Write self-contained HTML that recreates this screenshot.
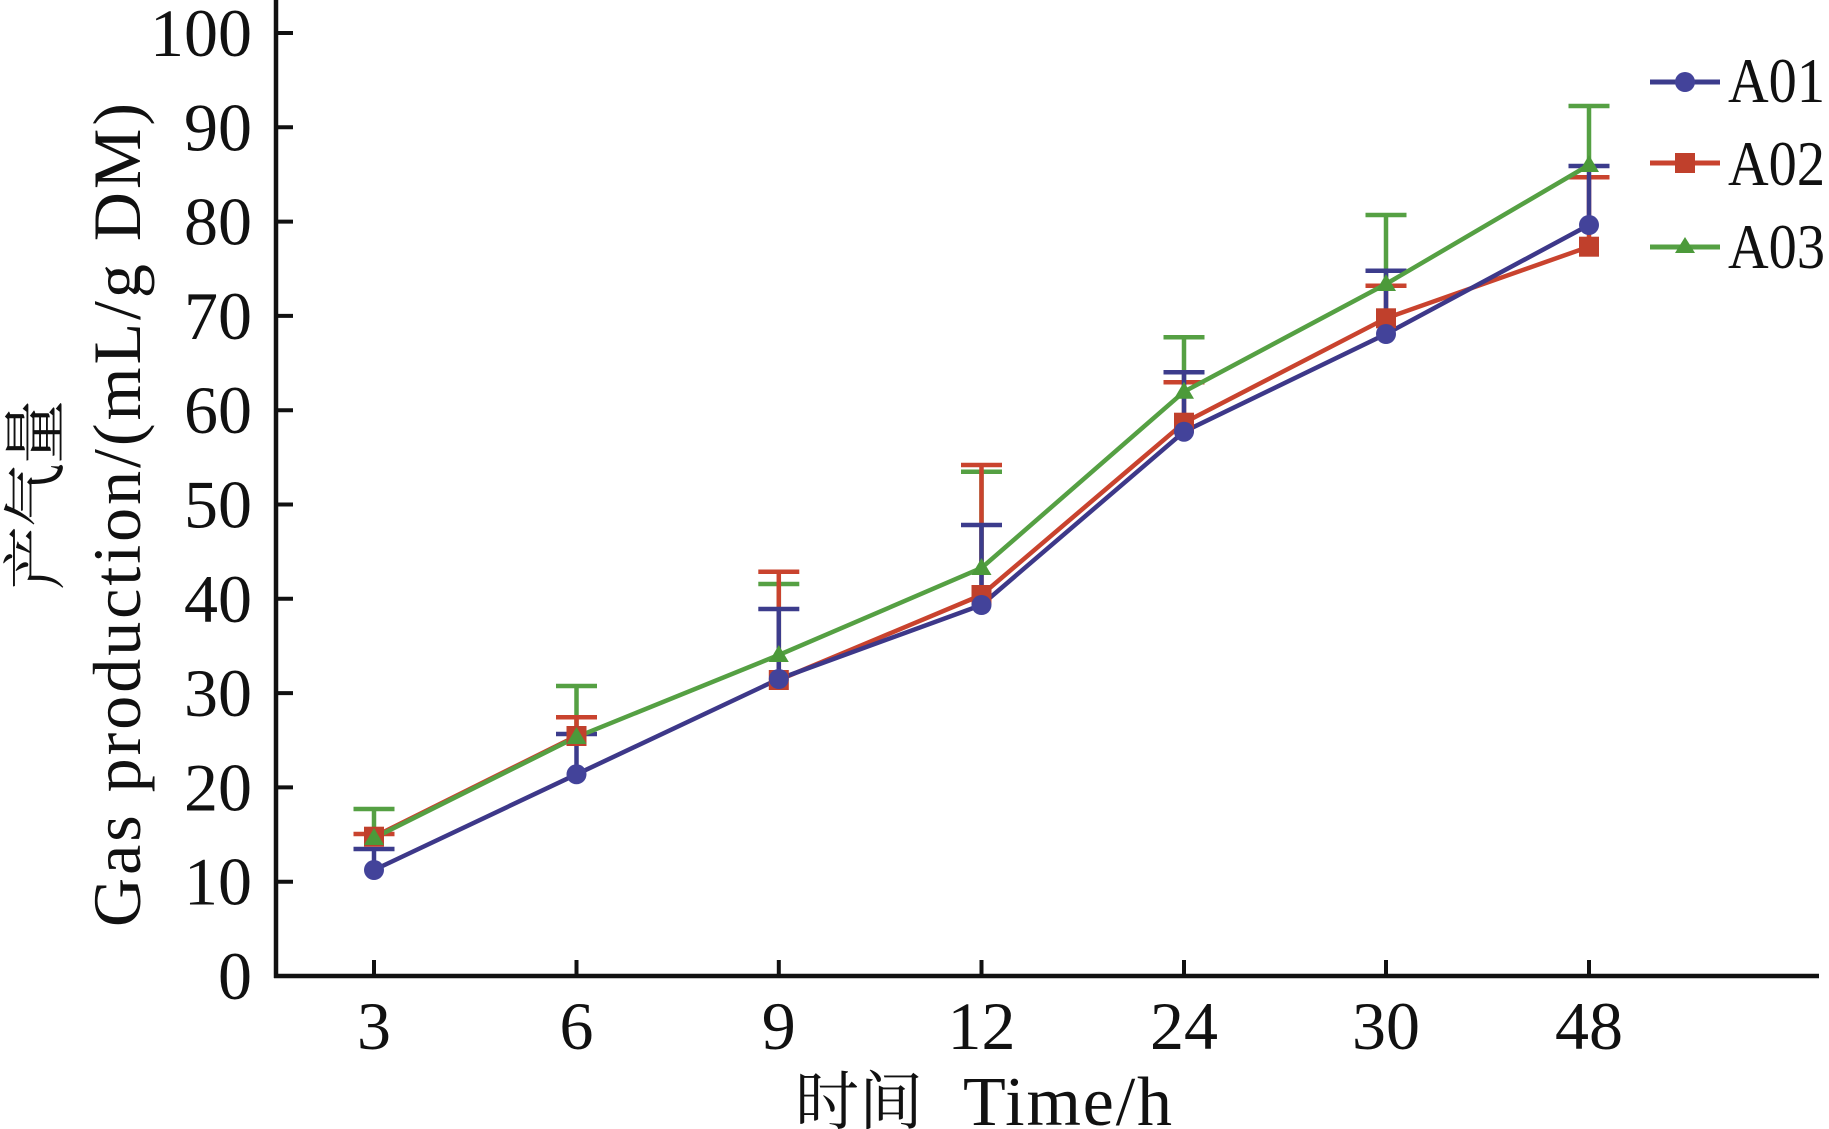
<!DOCTYPE html>
<html><head><meta charset="utf-8"><style>
html,body{margin:0;padding:0;background:#fff;}
svg{display:block;}
.t{font-family:"Liberation Serif","Noto Serif CJK SC",serif;fill:#111;}
.c{font-family:"Noto Serif CJK SC","Noto Sans CJK SC",serif;fill:#111;}
</style></head><body>
<svg width="1829" height="1129" viewBox="0 0 1829 1129" xmlns="http://www.w3.org/2000/svg">
<rect width="1829" height="1129" fill="#fff"/>
<!-- axes -->
<line x1="276" y1="0" x2="276" y2="978" stroke="#111" stroke-width="4.5"/>
<line x1="274" y1="976" x2="1819" y2="976" stroke="#111" stroke-width="4.5"/>
<!-- y ticks -->
<g stroke="#111" stroke-width="4">
<line x1="276" y1="33" x2="293" y2="33"/>
<line x1="276" y1="127.3" x2="293" y2="127.3"/>
<line x1="276" y1="221.6" x2="293" y2="221.6"/>
<line x1="276" y1="315.9" x2="293" y2="315.9"/>
<line x1="276" y1="410.2" x2="293" y2="410.2"/>
<line x1="276" y1="504.5" x2="293" y2="504.5"/>
<line x1="276" y1="598.8" x2="293" y2="598.8"/>
<line x1="276" y1="693.1" x2="293" y2="693.1"/>
<line x1="276" y1="787.4" x2="293" y2="787.4"/>
<line x1="276" y1="881.7" x2="293" y2="881.7"/>
<!-- x ticks -->
<line x1="374" y1="976" x2="374" y2="960"/>
<line x1="576.5" y1="976" x2="576.5" y2="960"/>
<line x1="778.8" y1="976" x2="778.8" y2="960"/>
<line x1="981.5" y1="976" x2="981.5" y2="960"/>
<line x1="1184" y1="976" x2="1184" y2="960"/>
<line x1="1386" y1="976" x2="1386" y2="960"/>
<line x1="1589" y1="976" x2="1589" y2="960"/>
</g>
<!-- y labels -->
<g class="t" font-size="68" text-anchor="end">
<text x="252" y="56">100</text>
<text x="252" y="150.3">90</text>
<text x="252" y="244.6">80</text>
<text x="252" y="338.9">70</text>
<text x="252" y="433.2">60</text>
<text x="252" y="527.5">50</text>
<text x="252" y="621.8">40</text>
<text x="252" y="716.1">30</text>
<text x="252" y="810.4">20</text>
<text x="252" y="904.7">10</text>
<text x="252" y="999">0</text>
</g>
<!-- x labels -->
<g class="t" font-size="68" text-anchor="middle">
<text x="374" y="1049">3</text>
<text x="576.5" y="1049">6</text>
<text x="778.8" y="1049">9</text>
<text x="981.5" y="1049">12</text>
<text x="1184" y="1049">24</text>
<text x="1386" y="1049">30</text>
<text x="1589" y="1049">48</text>
</g>
<!-- axis titles -->
<text class="c" x="795" y="1124" font-size="64">时间</text>
<text class="t" x="963" y="1125" font-size="70" textLength="209" lengthAdjust="spacing">Time/h</text>
<text class="c" transform="translate(58,590) rotate(-90)" font-size="64" textLength="190" lengthAdjust="spacing">产气量</text>
<text class="t" transform="translate(140,927) rotate(-90)" font-size="68" textLength="824" lengthAdjust="spacing">Gas production/(mL/g DM)</text>

<!-- error bars: green, red, blue -->
<g stroke="#55a043" stroke-width="4.5">
<line x1="374" y1="838" x2="374" y2="809"/><line x1="353.5" y1="809" x2="394.5" y2="809"/>
<line x1="576.5" y1="737" x2="576.5" y2="686"/><line x1="556" y1="686" x2="597" y2="686"/>
<line x1="778.8" y1="655" x2="778.8" y2="584"/><line x1="758.3" y1="584" x2="799.3" y2="584"/>
<line x1="981.5" y1="568" x2="981.5" y2="471.7"/><line x1="961" y1="471.7" x2="1002" y2="471.7"/>
<line x1="1184" y1="391.7" x2="1184" y2="337.3"/><line x1="1163.5" y1="337.3" x2="1204.5" y2="337.3"/>
<line x1="1386" y1="284" x2="1386" y2="215"/><line x1="1365.5" y1="215" x2="1406.5" y2="215"/>
<line x1="1589" y1="165" x2="1589" y2="106"/><line x1="1568.5" y1="106" x2="1609.5" y2="106"/>
</g>
<g stroke="#c9432e" stroke-width="4.5">
<line x1="374" y1="837" x2="374" y2="834"/><line x1="353.5" y1="834" x2="394.5" y2="834"/>
<line x1="576.5" y1="736" x2="576.5" y2="717.3"/><line x1="556" y1="717.3" x2="597" y2="717.3"/>
<line x1="778.8" y1="680" x2="778.8" y2="571.7"/><line x1="758.3" y1="571.7" x2="799.3" y2="571.7"/>
<line x1="981.5" y1="595" x2="981.5" y2="465"/><line x1="961" y1="465" x2="1002" y2="465"/>
<line x1="1184" y1="422.7" x2="1184" y2="382.3"/><line x1="1163.5" y1="382.3" x2="1204.5" y2="382.3"/>
<line x1="1386" y1="318.3" x2="1386" y2="285.7"/><line x1="1365.5" y1="285.7" x2="1406.5" y2="285.7"/>
<line x1="1589" y1="246.7" x2="1589" y2="177.3"/><line x1="1568.5" y1="177.3" x2="1609.5" y2="177.3"/>
</g>
<g stroke="#3c3c8c" stroke-width="4.5">
<line x1="374" y1="870" x2="374" y2="849"/><line x1="353.5" y1="849" x2="394.5" y2="849"/>
<line x1="576.5" y1="774.3" x2="576.5" y2="734"/><line x1="556" y1="734" x2="597" y2="734"/>
<line x1="778.8" y1="679" x2="778.8" y2="609"/><line x1="758.3" y1="609" x2="799.3" y2="609"/>
<line x1="981.5" y1="605" x2="981.5" y2="525"/><line x1="961" y1="525" x2="1002" y2="525"/>
<line x1="1184" y1="431.7" x2="1184" y2="372.3"/><line x1="1163.5" y1="372.3" x2="1204.5" y2="372.3"/>
<line x1="1386" y1="334" x2="1386" y2="270.7"/><line x1="1365.5" y1="270.7" x2="1406.5" y2="270.7"/>
<line x1="1589" y1="225" x2="1589" y2="166"/><line x1="1568.5" y1="166" x2="1609.5" y2="166"/>
</g>

<!-- series lines -->
<polyline fill="none" stroke="#c9432e" stroke-width="4.5" points="374,836.7 576.5,736"/>
<polyline fill="none" stroke="#c9432e" stroke-width="4.5" points="778.8,680 981.5,595 1184,422.7 1386,318.3 1589,246.7"/>
<polyline fill="none" stroke="#3d3889" stroke-width="4.5" points="374,870 576.5,774.3 778.8,679 981.5,605 1184,431.7 1386,334 1589,225"/>
<polyline fill="none" stroke="#55a043" stroke-width="4.5" points="374,838 576.5,737 778.8,655 981.5,568 1184,391.7 1386,284 1589,165"/>

<!-- markers -->
<g fill="#c0402c">
<rect x="364" y="826.7" width="20" height="20"/>
<rect x="566.5" y="726" width="20" height="20"/>
<rect x="768.8" y="670" width="20" height="20"/>
<rect x="971.5" y="585" width="20" height="20"/>
<rect x="1174" y="412.7" width="20" height="20"/>
<rect x="1376" y="308.3" width="20" height="20"/>
<rect x="1579" y="236.7" width="20" height="20"/>
</g>
<g fill="#43439a">
<circle cx="374" cy="870" r="10"/>
<circle cx="576.5" cy="774.3" r="10"/>
<circle cx="778.8" cy="679" r="10"/>
<circle cx="981.5" cy="605" r="10"/>
<circle cx="1184" cy="431.7" r="10"/>
<circle cx="1386" cy="334" r="10"/>
<circle cx="1589" cy="225" r="10"/>
</g>
<g fill="#4c9a3a">
<polygon points="374,828 364,845 384,845"/>
<polygon points="576.5,727 566.5,744 586.5,744"/>
<polygon points="778.8,645 768.8,662 788.8,662"/>
<polygon points="981.5,558 971.5,575 991.5,575"/>
<polygon points="1184,381.7 1174,398.7 1194,398.7"/>
<polygon points="1386,274 1376,291 1396,291"/>
<polygon points="1589,155 1579,172 1599,172"/>
</g>

<!-- legend -->
<line x1="1650" y1="82" x2="1720" y2="82" stroke="#3c3c8c" stroke-width="5"/>
<circle cx="1685" cy="82" r="10" fill="#43439a"/>
<line x1="1650" y1="163" x2="1720" y2="163" stroke="#c9432e" stroke-width="5"/>
<rect x="1675" y="153" width="20" height="20" fill="#c0402c"/>
<line x1="1650" y1="247" x2="1720" y2="247" stroke="#55a043" stroke-width="5"/>
<polygon points="1685,237 1675,253 1695,253" fill="#4c9a3a"/>
<g class="t" font-size="64">
<text x="1728" y="102" textLength="97" lengthAdjust="spacingAndGlyphs">A01</text>
<text x="1728" y="185" textLength="97" lengthAdjust="spacingAndGlyphs">A02</text>
<text x="1728" y="268" textLength="97" lengthAdjust="spacingAndGlyphs">A03</text>
</g>
</svg>
</body></html>
